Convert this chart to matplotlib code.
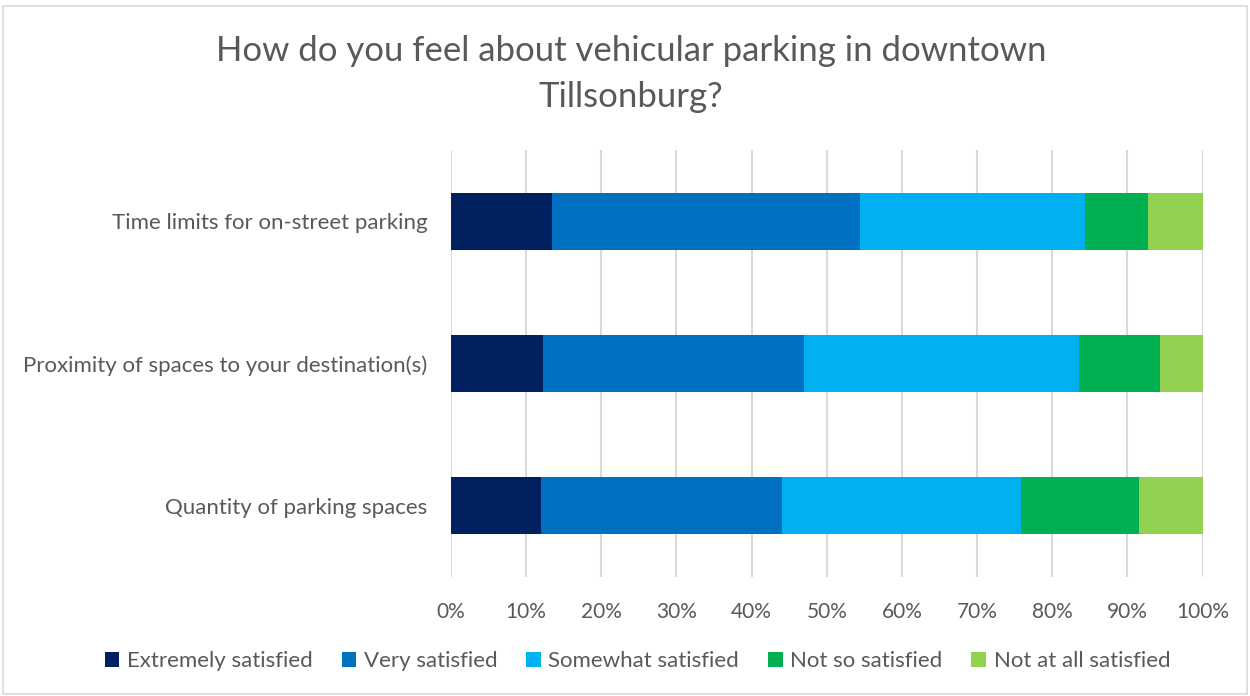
import matplotlib.pyplot as plt
from matplotlib.patches import Rectangle
import numpy as np

plt.rcParams['font.family'] = ['Lato', 'DejaVu Sans']

categories = ["Time limits for on-street parking",
              "Proximity of spaces to your destination(s)",
              "Quantity of parking spaces"]
series_names = ["Extremely satisfied", "Very satisfied", "Somewhat satisfied",
                "Not so satisfied", "Not at all satisfied"]
# percent of respondents per category (top to bottom)
extremely = [13.4, 12.2, 12.0]
very = [41.0, 34.8, 32.0]
somewhat = [30.0, 36.6, 31.8]
not_so = [8.3, 10.8, 15.7]
not_at_all = [7.3, 5.6, 8.5]
colors = ["#002060", "#0070C0", "#00B0F0", "#00B050", "#92D050"]

txt = "#595959"

fig = plt.figure(figsize=(12.5, 6.96), dpi=100)
ax = fig.add_axes([451/1250, 1 - 577/696, (1202.5-451)/1250, (577-150)/696])

y = np.arange(len(categories))
left = np.zeros(len(categories))
for name, vals, c in zip(series_names, [extremely, very, somewhat, not_so, not_at_all], colors):
    ax.barh(y, vals, left=left, height=0.4, color=c, label=name, zorder=3)
    left += np.array(vals)

ax.set_xlim(0, 100)
ax.set_ylim(2.5, -0.5)
ax.set_yticks(y)
ax.set_yticklabels(categories, fontsize=16, color=txt)
ax.set_xticks(np.arange(0, 101, 10))
ax.set_xticklabels([f"{v}%" for v in range(0, 101, 10)], fontsize=15, color=txt)
ax.tick_params(length=0, pad=17, axis='y')
ax.tick_params(length=0, pad=18, axis='x')
ax.grid(axis='x', color="#d9d9d9", linewidth=1.5, zorder=0)
for s in ax.spines.values():
    s.set_visible(False)

fig.suptitle("How do you feel about vehicular parking in downtown\nTillsonburg?",
             x=0.505, y=0.95, fontsize=25, color=txt, linespacing=1.55)

fig.legend(loc='center', bbox_to_anchor=(0.51, 0.05), ncol=5, frameon=False,
           fontsize=16, labelcolor=txt, handlelength=0.65, handleheight=0.65,
           handletextpad=0.35, columnspacing=1.3)

fig.patches.append(Rectangle((3/1250, 2/696), 1244/1250, 688/696, transform=fig.transFigure,
                             fill=False, edgecolor="#d9d9d9", linewidth=1.2))

fig.savefig("out.png", dpi=100)
